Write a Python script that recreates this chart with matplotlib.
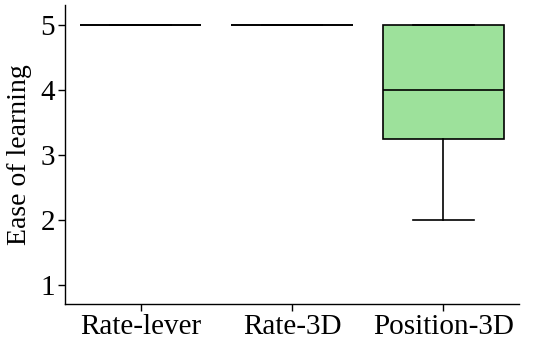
import matplotlib.pyplot as plt

# ratings per condition (Likert 1-5)
conditions = ['Rate-lever', 'Rate-3D', 'Position-3D']
rate_lever = [5, 5, 5, 5, 5, 5, 5, 5, 5, 5]
rate_3d = [5, 5, 5, 5, 5, 5, 5, 5, 5, 5]
position_3d = [2, 3, 3, 4, 4, 4, 5, 5, 5, 5]

plt.rcParams['font.family'] = ['Liberation Serif', 'DejaVu Serif']

fig = plt.figure(figsize=(5.5, 3.41), dpi=100)
ax = fig.add_axes([65 / 550, 37 / 341, 454 / 550, 299 / 341])

line = dict(color='black', linewidth=1.2)
bp = ax.boxplot([rate_lever, rate_3d, position_3d],
                positions=range(len(conditions)),
                widths=0.8,
                patch_artist=True,
                whis=1.5,
                showfliers=False,
                boxprops=dict(facecolor='#9de19b', edgecolor='black', linewidth=1.2),
                medianprops=line,
                whiskerprops=line,
                capprops=line,
                capwidths=0.4)

ax.set_xlim(-0.5, 2.5)
ax.set_ylim(0.71, 5.31)
ax.set_yticks([1, 2, 3, 4, 5])
ax.set_xticks(range(len(conditions)))
ax.set_xticklabels(conditions)
ax.set_ylabel('Ease of learning', fontsize=20, labelpad=6)

ax.spines['top'].set_visible(False)
ax.spines['right'].set_visible(False)
for s in ['left', 'bottom']:
    ax.spines[s].set_linewidth(1.0)
ax.tick_params(axis='both', labelsize=21, length=5, width=1.0, pad=2)

fig.savefig('out.png', dpi=100)
